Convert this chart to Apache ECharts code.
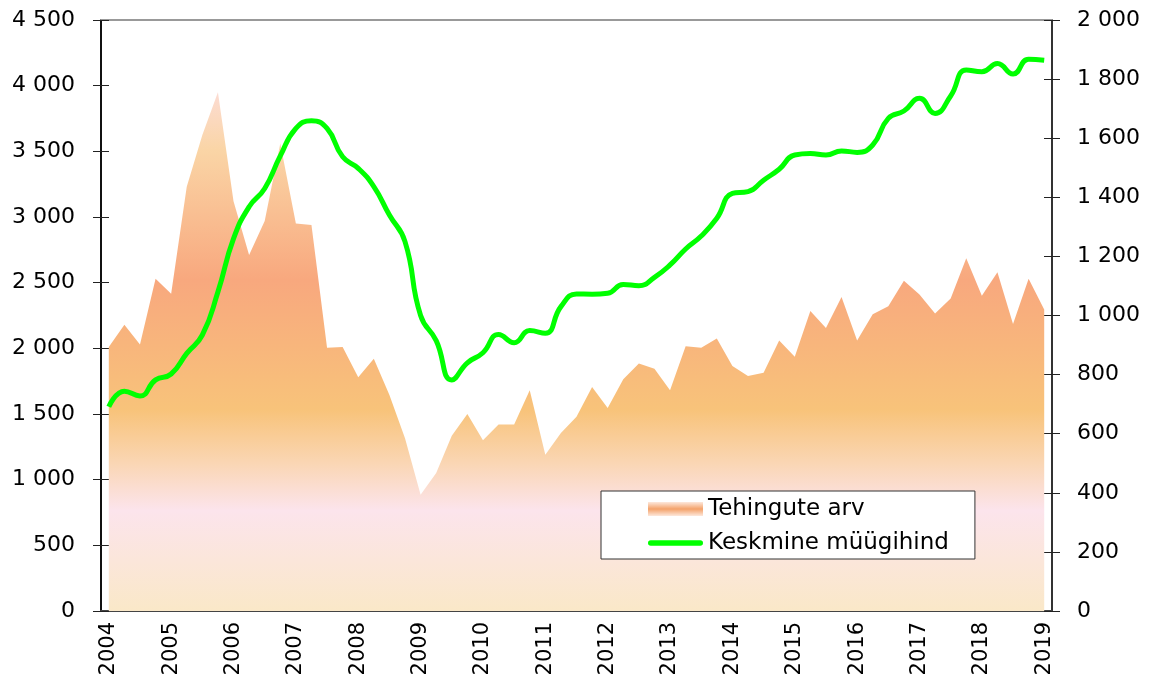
<!DOCTYPE html>
<html>
<head>
<meta charset="utf-8">
<title>Tehingute arv ja keskmine müügihind</title>
<script src="https://cdn.jsdelivr.net/npm/echarts@6/dist/echarts.min.js"></script>
<style>
    html, body { margin: 0; padding: 0; background: #fff; }
    #chart { width: 1151px; height: 681px; }
</style>
</head>
<body>
<div id="chart"></div>
<script>
// kvartalid 2004 I kv ... 2019 I kv
const years = [2004, 2005, 2006, 2007, 2008, 2009, 2010, 2011, 2012, 2013, 2014, 2015, 2016, 2017, 2018, 2019]
const quarterNames = ['I', 'II', 'III', 'IV']

// Tehingute arv (vasak telg)
const tehingud = [
    2010, 2180, 2030, 2530, 2415, 3230, 3625, 3950,
    3120, 2710, 2970, 3560, 2950, 2940, 2005, 2010,
    1780, 1920, 1645, 1315, 885, 1050, 1335, 1500,
    1300, 1420, 1420, 1680, 1190, 1355, 1480, 1705,
    1545, 1765, 1885, 1845, 1680, 2015, 2005, 2075,
    1865, 1790, 1815, 2060, 1935, 2285, 2155, 2390,
    2060, 2260, 2320, 2515, 2410, 2265, 2380, 2685,
    2400, 2580, 2185, 2530, 2295
]

// Keskmine müügihind (parem telg)
const hind = [
    691, 744, 728, 782, 802, 872, 934, 1080,
    1260, 1368, 1430, 1540, 1633, 1659, 1633, 1537,
    1498, 1436, 1340, 1250, 1000, 915, 782, 840,
    874, 936, 908, 949, 940, 1030, 1073, 1072,
    1075, 1105, 1101, 1129, 1171, 1225, 1269, 1329,
    1413, 1419, 1458, 1495, 1543, 1548, 1543, 1557,
    1552, 1577, 1667, 1692, 1735, 1684, 1743, 1831,
    1825, 1853, 1817, 1867, 1864
]

const leftTicks  = { min: 0, max: 4500, interval: 500 }
const rightTicks = { min: 0, max: 2000, interval: 200 }

const categories = []
years.forEach(y => quarterNames.forEach(q => {
    if (categories.length < tehingud.length) categories.push(y + ' ' + q)
}))

const FONT = 'DejaVu Sans'
const fmt = v => String(v).replace(/\B(?=(\d{3})+(?!\d))/g, ' ')

// pindala gradient on seotud joonise alaga, mitte andmetega
const areaGradient = new echarts.graphic.LinearGradient(0, 20, 0, 611, [
    { offset: 0.00, color: '#fdebe8' },
    { offset: 0.12, color: '#fcdcd4' },
    { offset: 0.22, color: '#fad5a6' },
    { offset: 0.44, color: '#f8a87e' },
    { offset: 0.66, color: '#f8c37a' },
    { offset: 0.75, color: '#fad6b4' },
    { offset: 0.83, color: '#fce4ec' },
    { offset: 1.00, color: '#fae8c8' },
], true)

const swatchGradient = new echarts.graphic.LinearGradient(0, 0, 0, 1, [
    { offset: 0.0, color: '#fde8dc' },
    { offset: 0.5, color: '#f4a26a' },
    { offset: 1.0, color: '#fde8dc' },
])

const hiddenAxis = { axisLine: { show: false }, axisLabel: { show: false }, splitLine: { show: false } }

const option = {
    animation: false,
    backgroundColor: '#fff',
    grid: { left: 101, right: 99, top: 20, bottom: 70, containLabel: false },
    legend: {
        orient: 'vertical',
        left: 601,
        top: 491,
        padding: [6, 26, 4, 47],
        itemGap: 10,
        itemWidth: 55,
        itemHeight: 14,
        backgroundColor: '#fff',
        borderColor: '#333',
        borderWidth: 1,
        borderRadius: 0,
        textStyle: { fontFamily: FONT, fontSize: 23, color: '#000', lineHeight: 24 },
        data: [
            { name: 'Tehingute arv', icon: 'rect', itemStyle: { color: swatchGradient } },
            { name: 'Keskmine müügihind', icon: 'path://M3,0h54a3,3 0 0 1 0,6h-54a3,3 0 0 1 0,-6z', itemStyle: { color: '#00ff00' } },
        ],
    },
    xAxis: [
        {
            type: 'category',
            position: 'bottom',
            data: categories,
            boundaryGap: true,
            axisLine: { onZero: false, lineStyle: { color: '#444', width: 2 } },
            axisTick: { inside: true, length: 8, interval: 0, lineStyle: { color: '#222' } },
            axisLabel: {
                interval: 3,
                rotate: 90,
                margin: 11,
                fontFamily: FONT,
                fontSize: 21,
                color: '#000',
                formatter: v => v.slice(0, 4),
            },
            splitLine: { show: false },
        },
        {
            // ticks ka telje alla
            type: 'category',
            position: 'bottom',
            data: categories,
            boundaryGap: true,
            axisTick: { inside: false, length: 4, interval: 0, lineStyle: { color: '#222' } },
            ...hiddenAxis,
        },
        {
            // ülemine ääris
            type: 'category',
            position: 'top',
            data: categories,
            axisLine: { show: true, onZero: false, lineStyle: { color: '#999', width: 2 } },
            axisTick: { show: false },
            axisLabel: { show: false },
            splitLine: { show: false },
        },
    ],
    yAxis: [
        {
            type: 'value',
            position: 'left',
            ...leftTicks,
            axisLine: { show: true, onZero: false, lineStyle: { color: '#111', width: 2 } },
            axisTick: { show: true, inside: false, length: 8, lineStyle: { color: '#222' } },
            axisLabel: { margin: 26, fontFamily: FONT, fontSize: 22, color: '#000', formatter: fmt },
            splitLine: { show: false },
        },
        {
            type: 'value',
            position: 'right',
            ...rightTicks,
            axisLine: { show: true, onZero: false, lineStyle: { color: '#333', width: 2 } },
            axisTick: { show: true, inside: false, length: 8, lineStyle: { color: '#222' } },
            axisLabel: { margin: 25, fontFamily: FONT, fontSize: 22, color: '#000', formatter: fmt },
            splitLine: { show: false },
        },
        {
            type: 'value',
            position: 'left',
            ...leftTicks,
            axisTick: { show: true, inside: true, length: 8, lineStyle: { color: '#222' } },
            ...hiddenAxis,
        },
        {
            type: 'value',
            position: 'right',
            ...rightTicks,
            axisTick: { show: true, inside: true, length: 8, lineStyle: { color: '#222' } },
            ...hiddenAxis,
        },
    ],
    series: [
        {
            name: 'Tehingute arv',
            type: 'line',
            xAxisIndex: 0,
            yAxisIndex: 0,
            data: tehingud,
            symbol: 'none',
            lineStyle: { width: 0, opacity: 0 },
            areaStyle: { color: areaGradient, opacity: 1 },
            z: 1,
        },
        {
            name: 'Keskmine müügihind',
            type: 'line',
            xAxisIndex: 0,
            yAxisIndex: 1,
            data: hind,
            smooth: 0.5,
            symbol: 'none',
            lineStyle: { color: '#00ff00', width: 5 },
            itemStyle: { color: '#00ff00' },
            z: 3,
        },
    ],
}

const chart = echarts.init(document.getElementById('chart'))
chart.setOption(option)
</script>
</body>
</html>
